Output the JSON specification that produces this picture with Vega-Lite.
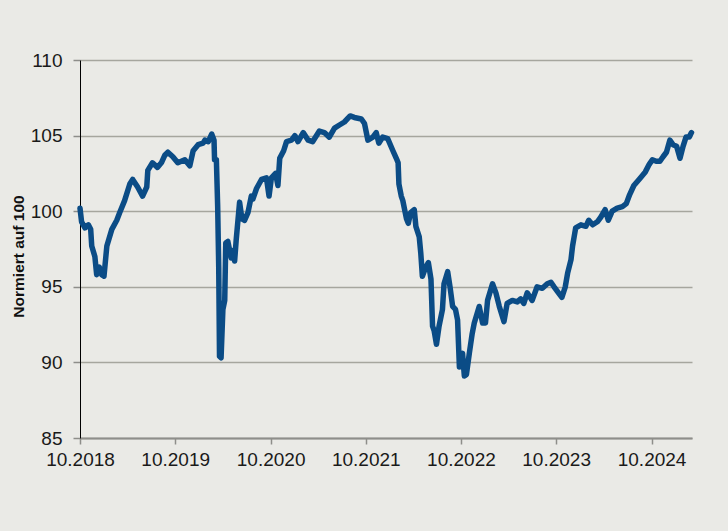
{
  "$schema": "https://vega.github.io/schema/vega-lite/v6.json",
  "width": 612,
  "height": 378,
  "autosize": "none",
  "padding": {"left": 80, "top": 60, "right": 36, "bottom": 93},
  "background": "#eaeae6",
  "config": {"view": {"stroke": null}},
  "data": {"values": [
    {"date": "2018-10-01", "v": 100.2},
    {"date": "2018-10-07", "v": 99.3},
    {"date": "2018-10-20", "v": 98.9},
    {"date": "2018-11-02", "v": 99.1},
    {"date": "2018-11-11", "v": 98.8},
    {"date": "2018-11-15", "v": 97.7},
    {"date": "2018-11-27", "v": 97.0},
    {"date": "2018-12-04", "v": 95.8},
    {"date": "2018-12-14", "v": 96.3},
    {"date": "2018-12-23", "v": 95.8},
    {"date": "2019-01-01", "v": 95.7},
    {"date": "2019-01-12", "v": 97.7},
    {"date": "2019-01-31", "v": 98.8},
    {"date": "2019-02-19", "v": 99.4},
    {"date": "2019-03-02", "v": 99.9},
    {"date": "2019-03-21", "v": 100.7},
    {"date": "2019-04-10", "v": 101.8},
    {"date": "2019-04-21", "v": 102.1},
    {"date": "2019-05-10", "v": 101.6},
    {"date": "2019-05-29", "v": 101.0},
    {"date": "2019-06-14", "v": 101.6},
    {"date": "2019-06-18", "v": 102.7},
    {"date": "2019-07-06", "v": 103.2},
    {"date": "2019-07-25", "v": 102.9},
    {"date": "2019-08-09", "v": 103.2},
    {"date": "2019-08-22", "v": 103.7},
    {"date": "2019-09-03", "v": 103.9},
    {"date": "2019-09-22", "v": 103.6},
    {"date": "2019-10-11", "v": 103.2},
    {"date": "2019-11-07", "v": 103.4},
    {"date": "2019-11-26", "v": 103.0},
    {"date": "2019-12-09", "v": 104.0},
    {"date": "2019-12-28", "v": 104.4},
    {"date": "2020-01-16", "v": 104.5},
    {"date": "2020-01-23", "v": 104.7},
    {"date": "2020-02-05", "v": 104.6},
    {"date": "2020-02-18", "v": 105.1},
    {"date": "2020-02-27", "v": 104.7},
    {"date": "2020-02-29", "v": 103.4},
    {"date": "2020-03-07", "v": 103.4},
    {"date": "2020-03-12", "v": 100.3},
    {"date": "2020-03-16", "v": 96.3},
    {"date": "2020-03-19", "v": 90.4},
    {"date": "2020-03-25", "v": 90.3},
    {"date": "2020-04-01", "v": 93.5},
    {"date": "2020-04-08", "v": 94.1},
    {"date": "2020-04-12", "v": 97.9},
    {"date": "2020-04-20", "v": 98.0},
    {"date": "2020-05-03", "v": 96.9},
    {"date": "2020-05-09", "v": 97.4},
    {"date": "2020-05-16", "v": 96.7},
    {"date": "2020-05-22", "v": 98.1},
    {"date": "2020-06-04", "v": 100.6},
    {"date": "2020-06-13", "v": 99.5},
    {"date": "2020-06-23", "v": 99.4},
    {"date": "2020-07-06", "v": 99.9},
    {"date": "2020-07-19", "v": 101.0},
    {"date": "2020-07-25", "v": 100.8},
    {"date": "2020-08-08", "v": 101.5},
    {"date": "2020-08-27", "v": 102.1},
    {"date": "2020-09-15", "v": 102.2},
    {"date": "2020-09-25", "v": 101.0},
    {"date": "2020-10-04", "v": 102.2},
    {"date": "2020-10-20", "v": 102.5},
    {"date": "2020-10-29", "v": 101.7},
    {"date": "2020-11-05", "v": 103.5},
    {"date": "2020-11-20", "v": 104.0},
    {"date": "2020-12-01", "v": 104.6},
    {"date": "2020-12-20", "v": 104.7},
    {"date": "2021-01-02", "v": 105.0},
    {"date": "2021-01-14", "v": 104.6},
    {"date": "2021-02-03", "v": 105.2},
    {"date": "2021-02-22", "v": 104.7},
    {"date": "2021-03-11", "v": 104.6},
    {"date": "2021-04-06", "v": 105.3},
    {"date": "2021-04-25", "v": 105.2},
    {"date": "2021-05-14", "v": 104.9},
    {"date": "2021-06-03", "v": 105.5},
    {"date": "2021-06-22", "v": 105.7},
    {"date": "2021-07-11", "v": 105.9},
    {"date": "2021-08-02", "v": 106.3},
    {"date": "2021-08-18", "v": 106.2},
    {"date": "2021-09-14", "v": 106.1},
    {"date": "2021-09-26", "v": 105.8},
    {"date": "2021-10-09", "v": 104.7},
    {"date": "2021-10-28", "v": 104.9},
    {"date": "2021-11-10", "v": 105.2},
    {"date": "2021-11-20", "v": 104.5},
    {"date": "2021-12-05", "v": 104.9},
    {"date": "2021-12-24", "v": 104.8},
    {"date": "2022-01-13", "v": 104.0},
    {"date": "2022-01-26", "v": 103.5},
    {"date": "2022-02-02", "v": 103.2},
    {"date": "2022-02-05", "v": 101.8},
    {"date": "2022-02-14", "v": 101.0},
    {"date": "2022-02-20", "v": 100.7},
    {"date": "2022-02-27", "v": 100.1},
    {"date": "2022-03-06", "v": 99.5},
    {"date": "2022-03-13", "v": 99.2},
    {"date": "2022-03-22", "v": 99.9},
    {"date": "2022-04-05", "v": 100.1},
    {"date": "2022-04-11", "v": 99.0},
    {"date": "2022-04-24", "v": 98.3},
    {"date": "2022-04-30", "v": 97.2},
    {"date": "2022-05-06", "v": 95.7},
    {"date": "2022-05-19", "v": 96.3},
    {"date": "2022-05-29", "v": 96.6},
    {"date": "2022-06-08", "v": 95.5},
    {"date": "2022-06-14", "v": 92.4},
    {"date": "2022-06-20", "v": 92.1},
    {"date": "2022-06-29", "v": 91.2},
    {"date": "2022-07-09", "v": 92.4},
    {"date": "2022-07-22", "v": 93.5},
    {"date": "2022-07-28", "v": 95.2},
    {"date": "2022-08-11", "v": 96.0},
    {"date": "2022-08-20", "v": 95.0},
    {"date": "2022-08-30", "v": 93.7},
    {"date": "2022-09-10", "v": 93.5},
    {"date": "2022-09-18", "v": 92.8},
    {"date": "2022-09-25", "v": 89.7},
    {"date": "2022-10-07", "v": 90.6},
    {"date": "2022-10-14", "v": 89.1},
    {"date": "2022-10-22", "v": 89.2},
    {"date": "2022-11-02", "v": 90.6},
    {"date": "2022-11-13", "v": 91.9},
    {"date": "2022-11-21", "v": 92.6},
    {"date": "2022-12-10", "v": 93.7},
    {"date": "2022-12-23", "v": 92.6},
    {"date": "2023-01-03", "v": 92.6},
    {"date": "2023-01-11", "v": 94.1},
    {"date": "2023-01-30", "v": 95.2},
    {"date": "2023-02-12", "v": 94.6},
    {"date": "2023-02-25", "v": 93.7},
    {"date": "2023-03-15", "v": 92.7},
    {"date": "2023-03-27", "v": 93.9},
    {"date": "2023-04-16", "v": 94.1},
    {"date": "2023-05-05", "v": 94.0},
    {"date": "2023-05-18", "v": 94.2},
    {"date": "2023-05-30", "v": 93.9},
    {"date": "2023-06-12", "v": 94.6},
    {"date": "2023-07-01", "v": 94.1},
    {"date": "2023-07-20", "v": 95.0},
    {"date": "2023-08-09", "v": 94.9},
    {"date": "2023-08-28", "v": 95.2},
    {"date": "2023-09-11", "v": 95.3},
    {"date": "2023-09-23", "v": 95.0},
    {"date": "2023-10-10", "v": 94.6},
    {"date": "2023-10-23", "v": 94.3},
    {"date": "2023-11-05", "v": 95.0},
    {"date": "2023-11-14", "v": 95.9},
    {"date": "2023-11-27", "v": 96.8},
    {"date": "2023-12-03", "v": 97.7},
    {"date": "2023-12-09", "v": 98.3},
    {"date": "2023-12-15", "v": 98.9},
    {"date": "2024-01-04", "v": 99.1},
    {"date": "2024-01-23", "v": 99.0},
    {"date": "2024-02-03", "v": 99.4},
    {"date": "2024-02-18", "v": 99.1},
    {"date": "2024-03-07", "v": 99.3},
    {"date": "2024-03-20", "v": 99.6},
    {"date": "2024-04-06", "v": 100.1},
    {"date": "2024-04-18", "v": 99.4},
    {"date": "2024-05-03", "v": 100.0},
    {"date": "2024-05-22", "v": 100.2},
    {"date": "2024-06-11", "v": 100.3},
    {"date": "2024-06-26", "v": 100.5},
    {"date": "2024-07-09", "v": 101.1},
    {"date": "2024-07-25", "v": 101.7},
    {"date": "2024-08-14", "v": 102.1},
    {"date": "2024-09-07", "v": 102.6},
    {"date": "2024-09-22", "v": 103.1},
    {"date": "2024-10-04", "v": 103.4},
    {"date": "2024-10-19", "v": 103.3},
    {"date": "2024-11-02", "v": 103.3},
    {"date": "2024-11-14", "v": 103.6},
    {"date": "2024-11-27", "v": 103.9},
    {"date": "2024-12-10", "v": 104.7},
    {"date": "2024-12-22", "v": 104.4},
    {"date": "2025-01-05", "v": 104.3},
    {"date": "2025-01-18", "v": 103.5},
    {"date": "2025-01-30", "v": 104.3},
    {"date": "2025-02-10", "v": 104.9},
    {"date": "2025-02-22", "v": 104.9},
    {"date": "2025-03-03", "v": 105.2}
  ]},
  "mark": {"type": "line", "color": "#0b4c86", "strokeWidth": 5.5, "strokeJoin": "round", "strokeCap": "round"},
  "encoding": {
    "x": {
      "field": "date",
      "type": "temporal",
      "scale": {"type": "utc", "domain": [{"year": 2018, "month": 10, "date": 1, "utc": true}, {"year": 2025, "month": 3, "date": 5, "utc": true}]},
      "axis": {
        "title": null,
        "values": [
          {"year": 2018, "month": 10, "date": 1, "utc": true},
          {"year": 2019, "month": 10, "date": 1, "utc": true},
          {"year": 2020, "month": 10, "date": 1, "utc": true},
          {"year": 2021, "month": 10, "date": 1, "utc": true},
          {"year": 2022, "month": 10, "date": 1, "utc": true},
          {"year": 2023, "month": 10, "date": 1, "utc": true},
          {"year": 2024, "month": 10, "date": 1, "utc": true}
        ],
        "labelExpr": "utcFormat(datum.value, '%m.%Y')",
        "grid": false,
        "domainColor": "#8e8e8a",
        "domainWidth": 2,
        "tickColor": "#8e8e8a",
        "tickWidth": 1.5,
        "tickSize": 6,
        "labelPadding": 6,
        "labelFont": "Liberation Sans, Arial",
        "labelFontSize": 19,
        "labelColor": "#1a1a1a",
        "labelFlush": false,
        "labelOverlap": false
      }
    },
    "y": {
      "field": "v",
      "type": "quantitative",
      "scale": {"domain": [85, 110], "nice": false, "zero": false},
      "axis": {
        "title": "Normiert auf 100",
        "titleFont": "Liberation Sans, Arial",
        "titleFontSize": 15.5,
        "titleFontWeight": "bold",
        "titleColor": "#111111",
        "titleX": -62,
        "titleY": 196,
        "titleBaseline": "middle",
        "titleAngle": -90,
        "values": [85, 90, 95, 100, 105, 110],
        "grid": true,
        "gridColor": "#a6a69e",
        "gridWidth": 1.5,
        "domainColor": "#000000",
        "domainWidth": 1,
        "tickColor": "#8e8e8a",
        "tickWidth": 1.5,
        "tickSize": 7,
        "labelPadding": 11,
        "labelFont": "Liberation Sans, Arial",
        "labelFontSize": 19,
        "labelColor": "#1a1a1a"
      }
    }
  }
}
